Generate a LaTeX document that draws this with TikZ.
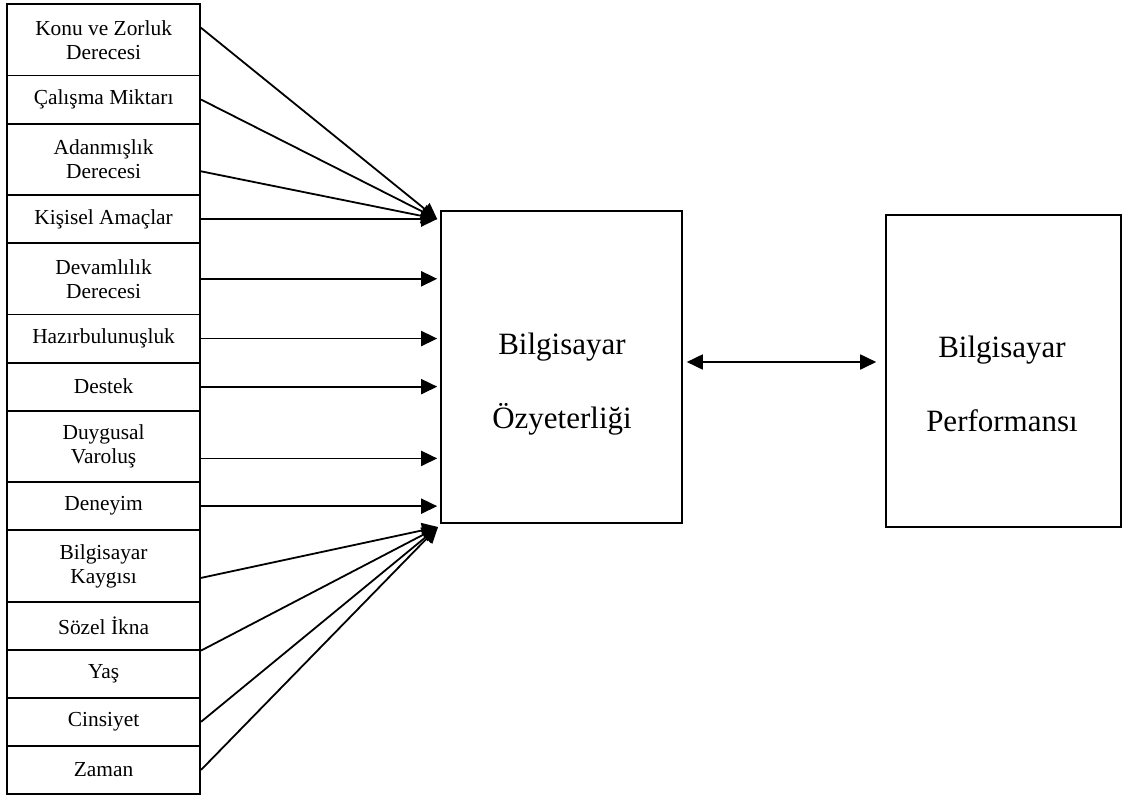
\documentclass[tikz,border=0pt]{standalone}
\usepackage{fontspec}
\setmainfont{Liberation Serif}
\usetikzlibrary{matrix,arrows.meta,positioning}

\tikzset{
	factor/.style = {draw, line width = 1.8pt, minimum width = 193pt, align = center, inner sep = 2pt, font = \fontsize{21.4}{24}\selectfont},
	twoline/.style = {minimum height = 71.4pt},
	oneline/.style = {minimum height = 48.1pt},
	bigbox/.style = {draw, line width = 1.6pt, minimum height = 312pt},
	bigtext/.style = {align = center, font = \fontsize{31}{74}\selectfont},
	link/.style = {line width = 1.8pt, -{Triangle[length = 16pt, width = 15pt]}},
	dlink/.style = {line width = 1.8pt, {Triangle[length = 16pt, width = 15pt]}-{Triangle[length = 16pt, width = 15pt]}}
}

\begin{document}
\begin{tikzpicture}[x = 1pt, y = -1pt]
		\useasboundingbox (0,0) rectangle (1124,798);
		\matrix (f) [
			anchor = north west, inner sep = 0pt, row sep = -1.8pt,
			nodes = {factor, oneline},
			row 1/.style = {nodes = {twoline}},
			row 3/.style = {nodes = {twoline}},
			row 5/.style = {nodes = {twoline}},
			row 8/.style = {nodes = {twoline}},
			row 10/.style = {nodes = {twoline}}
		] at (6,3) {
			\node (konu) {Konu ve Zorluk\\Derecesi}; \\
			\node (calis) {Çalışma Miktarı}; \\
			\node (adan) {Adanmışlık\\Derecesi}; \\
			\node (kisi) {Kişisel Amaçlar}; \\
			\node (dev) {Devamlılık\\Derecesi}; \\
			\node (haz) {Hazırbulunuşluk}; \\
			\node (dest) {Destek}; \\
			\node (duy) {Duygusal\\Varoluş}; \\
			\node (den) {Deneyim}; \\
			\node (kaygi) {Bilgisayar\\Kaygısı}; \\
			\node (soz) {Sözel İkna}; \\
			\node (yas) {Yaş}; \\
			\node (cins) {Cinsiyet}; \\
			\node (zam) {Zaman}; \\
		};
		\node[bigbox, minimum width = 241pt] (bso) at (561.5,367) {};
		\node[bigbox, minimum width = 235pt] (bper) at (1003.5,371) {};
		\node[bigtext] (bsotext) at (562,384) {Bilgisayar\\Özyeterliği};
		\node[bigtext] (bpertext) at (1002,384) {Bilgisayar\\Performansı};
		\coordinate (topin) at ([xshift = -3pt]kisi.east -| bso.west);
		\coordinate (botin) at (438,527);
		% converging into the top corner
		\draw[link] ([yshift = 12pt]konu.east) -- (topin);
		\draw[link] (calis.east) -- (topin);
		\draw[link] ([yshift = -12pt]adan.east) -- (topin);
		\draw[link] (kisi.east) -- (topin);
		% straight arrows
		\draw[link] (dev.east) -- (dev.east -| topin);
		\draw[link] (haz.east) -- (haz.east -| topin);
		\draw[link] (dest.east) -- (dest.east -| topin);
		\draw[link] ([yshift = -12pt]duy.east) -- ([yshift = -12pt]duy.east -| topin);
		\draw[link] (den.east) -- (den.east -| topin);
		% converging into the bottom corner
		\draw[link] ([yshift = -12pt]kaygi.east) -- (botin);
		\draw[link] (soz.south east) -- (botin);
		\draw[link] (cins.east) -- (botin);
		\draw[link] (zam.east) -- (botin);
		\draw[dlink] ([xshift = 4pt, yshift = 5pt]bso.east) -- ([xshift = -9pt, yshift = 9pt]bper.west);
	\end{tikzpicture}
\end{document}
